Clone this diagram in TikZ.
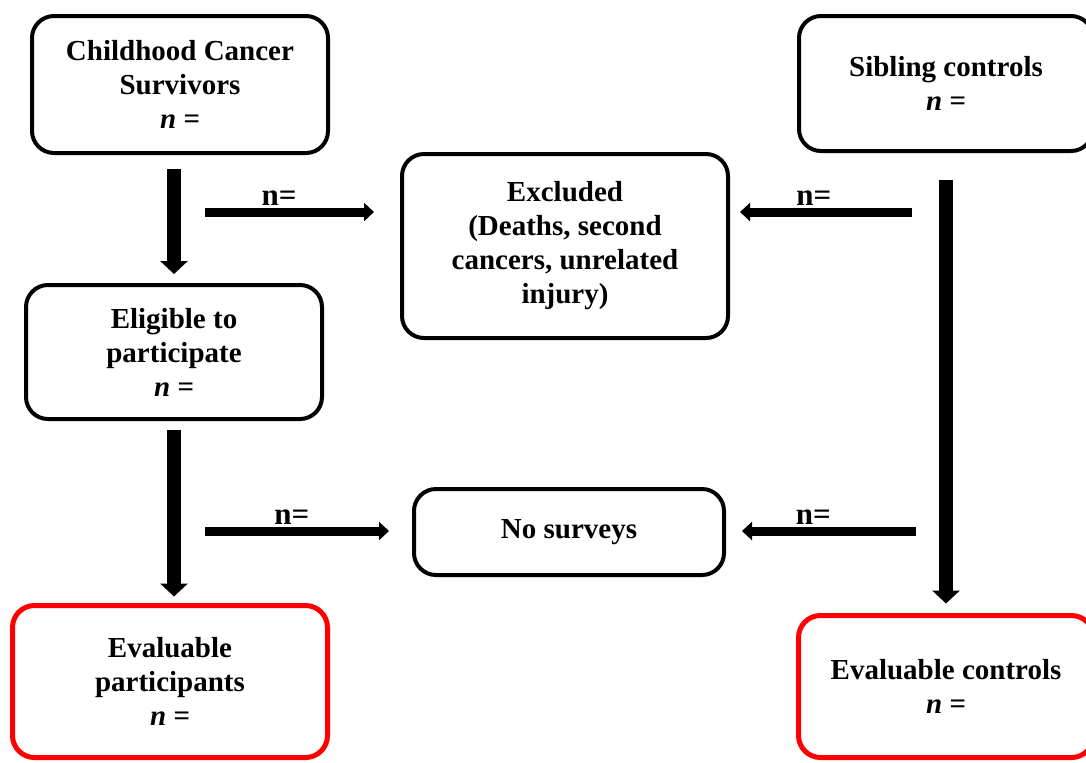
\documentclass[tikz,border=0pt]{standalone}
\usepackage{fontspec}
\setmainfont{Liberation Serif}
\usetikzlibrary{arrows.meta}
\tikzset{
  box/.style={draw,line width=2pt,rounded corners=11pt,align=center,inner sep=0pt,
    font=\bfseries\fontsize{14.5}{17}\selectfont},
  redbox/.style={box,draw=red,line width=2.5pt},
  downarr/.style={line width=7pt,-{Triangle[width=13.5pt,length=6.5pt]}},
  sidearr/.style={line width=4.5pt,-{Triangle[width=9pt,length=5pt]}},
  lbl/.style={font=\bfseries\fontsize{15.5}{17}\selectfont,inner sep=1pt}
}
\begin{document}
\begin{tikzpicture}[x=0.5pt,y=-0.5pt]
                \useasboundingbox (0,0) rectangle (1086,762);
                \node[box,minimum width=148pt,minimum height=68.5pt] (surv) at (180,84.5) {Childhood Cancer\\Survivors\\\itshape n =};
                \node[box,minimum width=147pt,minimum height=67.5pt] (sib) at (946,83.5) {Sibling controls\\\itshape n =};
                \node[box,minimum width=163pt,minimum height=92pt] (excl) at (565,246) {Excluded\\(Deaths, second\\cancers, unrelated\\injury)};
                \node[box,minimum width=148pt,minimum height=67pt] (elig) at (174,352) {Eligible to\\participate\\\itshape n =};
                \node[box,minimum width=155pt,minimum height=43pt] (nosurv) at (569,532) {No surveys};
                \node[redbox,minimum width=157.5pt,minimum height=76pt] (evalp) at (170,681.5) {Evaluable\\participants\\\itshape n =};
                \node[redbox,minimum width=147.5pt,minimum height=71pt] (evalc) at (946,686.5) {Evaluable controls\\\itshape n =};
                \coordinate (e1) at (205,212);
                \coordinate (e2) at (912,212);
                \coordinate (s1) at (205,531);
                \coordinate (s2) at (916,531);
                \draw[downarr,shorten <=7pt,shorten >=4.5pt] (surv.south -| elig.north) -- (elig.north);
                \draw[downarr,shorten <=4.5pt,shorten >=3.25pt] (elig.south) -- (elig.south |- evalp.north);
                \draw[downarr,shorten <=13.5pt,shorten >=4.75pt] (sib.south) -- (evalc.north);
                \draw[sidearr,shorten >=13pt] (e1) -- (e1 -| excl.west) node[lbl,above=0pt,pos=0.38] {n=};
                \draw[sidearr,shorten >=5pt] (e2) -- (e2 -| excl.east) node[lbl,above=0pt,pos=0.54] {n=};
                \draw[sidearr,shorten >=11.5pt] (s1) -- (s1 -| nosurv.west) node[lbl,above=0pt,pos=0.42] {n=};
                \draw[sidearr,shorten >=8pt] (s2) -- (s2 -| nosurv.east) node[lbl,above=0pt,pos=0.54] {n=};
            \end{tikzpicture}
\end{document}
